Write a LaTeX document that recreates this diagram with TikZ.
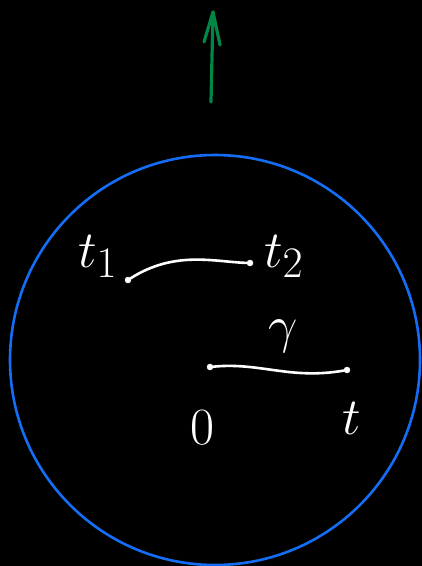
\documentclass[tikz,border=0pt]{standalone}
\usepackage{tikz}
\usepackage{graphicx}
\usetikzlibrary{arrows.meta,positioning,calc}
\usepackage{xcolor}
\definecolor{ring}{RGB}{20,110,245}
\definecolor{upgreen}{RGB}{0,135,70}
\newcommand{\hand}[1]{\scalebox{2.1}{\Huge$#1$}}

\begin{document}
\begin{tikzpicture}[x=1pt,y=-1pt,
    pt/.style={circle,draw=white,fill=white,inner sep=0pt,minimum size=6pt},
    lbl/.style={text=white,inner sep=0pt},
    path/.style={white,line width=2.6pt,line cap=round}]
    \fill[black] (0,0) rectangle (422,566);
    \useasboundingbox (0,0) rectangle (422,566);
    % boundary circle
    \draw[ring,line width=2.6pt] (215,360) circle[radius=205];
    % green arrow
    \coordinate (base) at (211,102);
    \coordinate (tip) at (213,12);
    \draw[upgreen,line width=3.2pt,line cap=round,line join=round] (base) -- (tip);
    \draw[upgreen,line width=3.2pt,line cap=round,line join=round] ($(tip)+(-9,30)$) -- (tip) -- ($(tip)+(7,33)$);
    % upper curve
    \node[pt] (t1) at (128,280) {};
    \node[pt] (t2) at (250,263) {};
    \node[lbl] (lt1) at (98,256) {\hand{t_1}};
    \node[lbl] (lt2) at (284,256) {\hand{t_2}};
    \draw[path] (t1) .. controls (175,250) and (215,262) .. (t2);
    % lower curve
    \node[pt] (o) at (210,367) {};
    \node[pt] (t) at (347,370) {};
    \node[lbl] (lo) at (202,428) {\hand{0}};
    \node[lbl] (lt) at (352,418) {\hand{t}};
    \node[lbl] (lg) at (283,336) {\hand{\gamma}};
    \draw[path] (o) .. controls (260,362) and (290,380) .. (t);
\end{tikzpicture}
\end{document}
